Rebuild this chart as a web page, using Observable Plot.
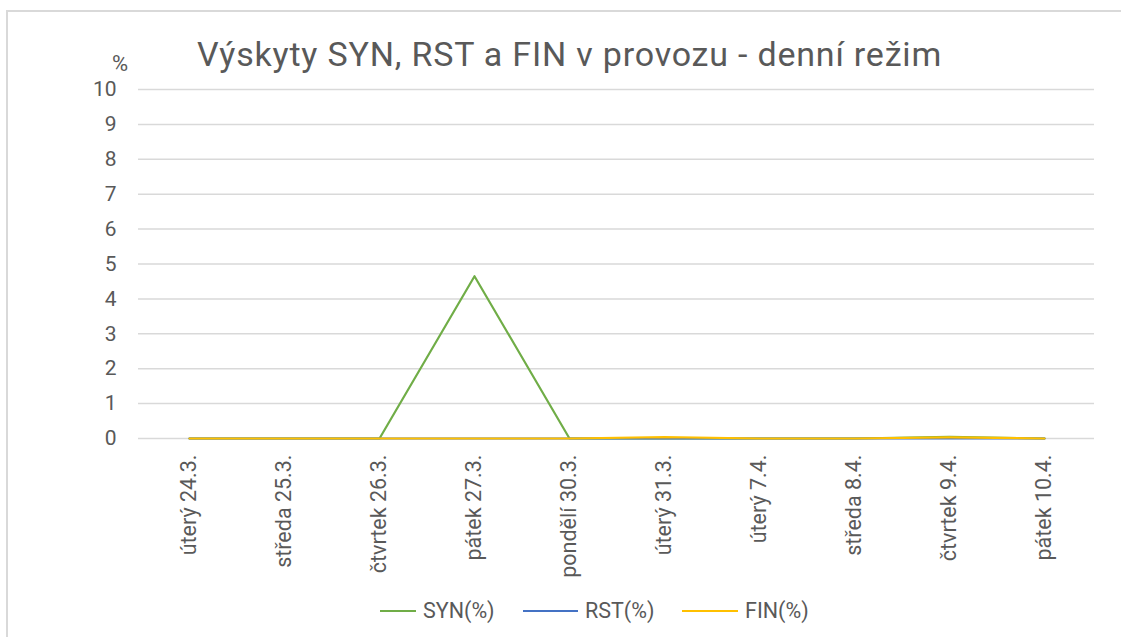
<!DOCTYPE html>
<html>
<head>
<meta charset="utf-8">
<script src="https://cdn.jsdelivr.net/npm/d3@7"></script>
<script src="https://cdn.jsdelivr.net/npm/@observablehq/plot@0.6"></script>
<style>
  html, body { margin: 0; padding: 0; background: #fff; }
  #wrap { position: relative; width: 1121px; height: 637px; overflow: hidden; font-family: Roboto, sans-serif; color: #595959; }
  #frame { position: absolute; left: 6px; top: 10px; width: 1130px; height: 700px; border: 2px solid #d9d9d9; box-sizing: border-box; }
  #title { position: absolute; left: 197px; top: 34px; font-size: 34px; letter-spacing: 0.8px; white-space: nowrap; color: #595959; }
  #unit { position: absolute; left: 112px; top: 51px; font-size: 22px; }
  #chart { position: absolute; left: 0; top: 0; }
  .leg { position: absolute; top: 598px; font-size: 21.5px; white-space: nowrap; }
  .sw { position: absolute; height: 2px; top: 610px; }
</style>
</head>
<body>
<div id="wrap">
  <div id="frame"></div>
  <div id="chart"></div>
  <div id="title">Výskyty SYN, RST a FIN v provozu - denní režim</div>
  <div id="unit">%</div>
</div>
<script>
const dates = ["úterý 24.3.", "středa 25.3.", "čtvrtek 26.3.", "pátek 27.3.", "pondělí 30.3.", "úterý 31.3.", "úterý 7.4.", "středa 8.4.", "čtvrtek 9.4.", "pátek 10.4."];
const seriesNames = ["SYN(%)", "RST(%)", "FIN(%)"];
const synValues = [0, 0, 0, 4.65, 0, 0, 0, 0, 0.05, 0];
const rstValues = [0, 0, 0, 0, 0, 0, 0, 0, 0, 0];
const finValues = [0, 0, 0, 0, 0, 0.04, 0, 0, 0.03, 0];
const yTicks = [0, 1, 2, 3, 4, 5, 6, 7, 8, 9, 10];
const seriesColors = ["#70AD47", "#4472C4", "#FFC000"];

const allValues = [synValues, rstValues, finValues];
const rows = [];
seriesNames.forEach((s, i) => dates.forEach((d, j) => rows.push({series: s, date: d, value: allValues[i][j]})));

const chart = Plot.plot({
  width: 1121,
  height: 600,
  marginLeft: 138,
  marginRight: 27,
  marginTop: 89,
  marginBottom: 162,
  style: { fontFamily: "Roboto, sans-serif", fontSize: "21px", color: "#595959", background: "transparent" },
  x: { type: "point", domain: dates, padding: 0.5, label: null },
  y: { domain: [0, 10], label: null },
  color: { domain: seriesNames, range: seriesColors },
  marks: [
    Plot.gridY(yTicks, { stroke: "#d9d9d9", strokeOpacity: 1, strokeWidth: 1.5 }),
    Plot.axisY(yTicks, { tickSize: 0, tickPadding: 22, fontSize: 21, label: null }),
    Plot.axisX({ tickSize: 0, tickRotate: -90, tickPadding: 16, fontSize: 21.5, label: null }),
    Plot.lineY(rows, { x: "date", y: "value", stroke: "series", z: "series", strokeWidth: 2.2 })
  ]
});
document.getElementById("chart").appendChild(chart);

// legend
const wrap = document.getElementById("wrap");
const swX = [380, 523, 682];
const swW = [36, 55, 56];
seriesNames.forEach((s, i) => {
  const sw = document.createElement("div");
  sw.className = "sw";
  sw.style.left = swX[i] + "px";
  sw.style.width = swW[i] + "px";
  sw.style.background = seriesColors[i];
  wrap.appendChild(sw);
  const t = document.createElement("div");
  t.className = "leg";
  t.style.left = (swX[i] + swW[i] + 7) + "px";
  t.textContent = s;
  wrap.appendChild(t);
});
</script>
</body>
</html>
